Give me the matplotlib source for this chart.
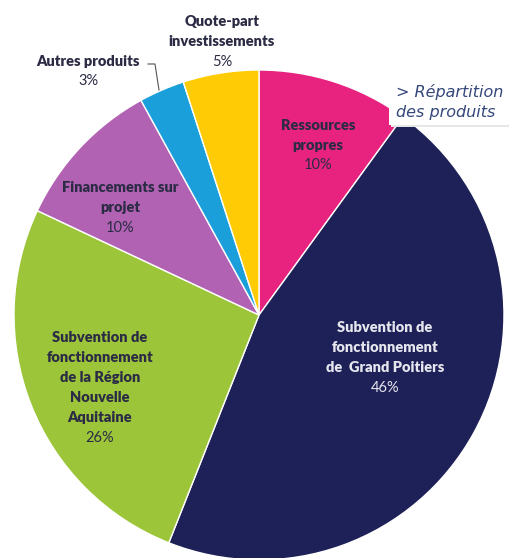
import matplotlib.pyplot as plt
from matplotlib.patches import Rectangle

# data
labels = ["Ressources\npropres", "Subvention de\nfonctionnement\nde  Grand Poitiers",
          "Subvention de\nfonctionnement\nde la Région\nNouvelle\nAquitaine",
          "Financements sur\nprojet", "Autres produits", "Quote-part\ninvestissements"]
values = [10, 46, 26, 10, 3, 5]
colors = ["#E8237F", "#1E2157", "#9CC53A", "#B262B3", "#1B9FDA", "#FFCB05"]

W, H = 509, 558
fig = plt.figure(figsize=(W / 100, H / 100), dpi=100)
ax = fig.add_axes([0, 0, 1, 1])

cx, cy, r = 259, H - 315, 245
ax.pie(values, colors=colors, startangle=90, counterclock=False,
       center=(cx, cy), radius=r, frame=True,
       wedgeprops=dict(edgecolor="white", linewidth=1))
ax.set_xlim(0, W)
ax.set_ylim(0, H)
ax.set_aspect("equal")
ax.axis("off")

fam = ["Lato", "DejaVu Sans"]
dark = "#2B2B45"
fs = 10.5
step = 20


def lab(x, y, name, pct, col=dark):
    # y = centre of first line in image pixels, one text per line
    lines = name.split("\n")
    for i, line in enumerate(lines):
        ax.text(x, H - (y + i * step), line, ha="center", va="center", fontsize=fs,
                fontweight="heavy", color=col, family=fam)
    ax.text(x, H - (y + len(lines) * step), pct, ha="center", va="center",
            fontsize=fs, color=col, family=fam)


lab(318, 125, labels[0], "10%")
lab(385, 328, labels[1], "46%", col="#E6E6EE")
lab(100, 338, labels[2], "26%")
lab(120, 188, labels[3], "10%")
lab(88, 61, labels[4], "3%")
lab(222, 22, labels[5], "5%")

# leader line for Autres produits
ax.plot([148, 155, 159], [H - 64, H - 64, H - 90], color="#555555", lw=0.8)

# title box
ax.add_patch(Rectangle((391, H - 127), 130, 48, facecolor="#E6E6E6", edgecolor="none", zorder=4))
ax.add_patch(Rectangle((389, H - 125), 130, 47, facecolor="white", edgecolor="none", zorder=5))
ax.text(396, H - 92, "> Répartition", ha="left", va="center", fontsize=11.5,
        style="italic", color="#34477A", family=["DejaVu Sans"], zorder=6)
ax.text(396, H - 113, "des produits", ha="left", va="center", fontsize=11.5,
        style="italic", color="#34477A", family=["DejaVu Sans"], zorder=6)

fig.savefig("out.png", dpi=100)
